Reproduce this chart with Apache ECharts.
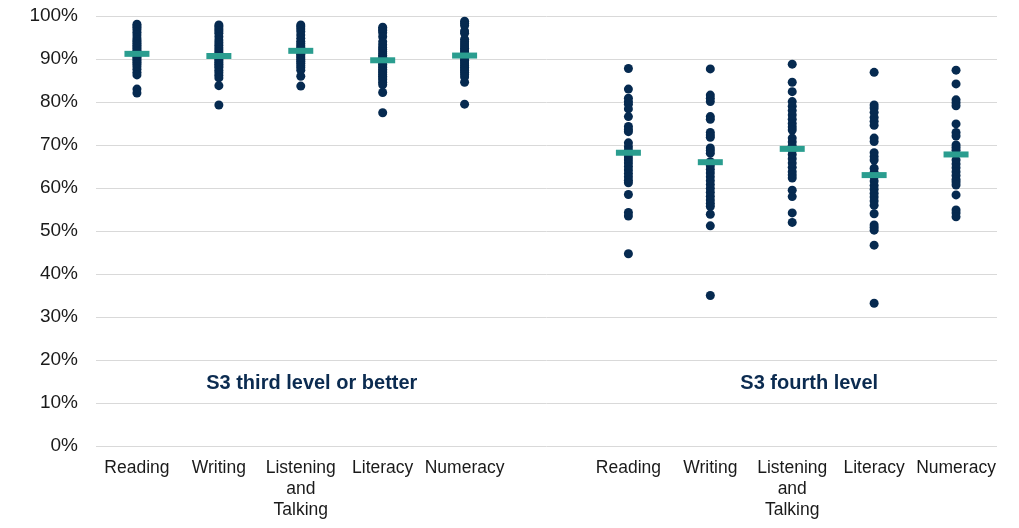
<!DOCTYPE html>
<html><head><meta charset="utf-8">
<script src="https://cdn.jsdelivr.net/npm/echarts@6/dist/echarts.min.js"></script>
<style>html,body{margin:0;padding:0;background:#fff}#c{width:1019px;height:528px}</style>
</head><body><div id="c"></div>
<script>
var categories = ['Reading','Writing','Listening\nand\nTalking','Literacy','Numeracy','','Reading','Writing','Listening\nand\nTalking','Literacy','Numeracy'];
var yTicks = [0,10,20,30,40,50,60,70,80,90,100];

// S3 third level or better (%)
var thirdReading   = [98.1,97.7,97.3,96.8,96.2,95.6,94.9,94.4,94.0,93.6,93.2,92.8,92.4,92.0,91.6,91.2,90.8,90.4,90.0,89.6,89.2,88.8,88.2,87.6,86.9,86.3,83.0,82.1];
var thirdWriting   = [97.9,97.5,97.0,96.5,96.0,95.2,94.4,93.8,93.2,92.6,92.1,91.6,91.2,90.8,90.4,90.0,89.6,89.2,88.8,88.4,88.0,87.4,86.8,86.2,85.6,83.8,79.3];
var thirdListening = [97.9,97.5,97.0,96.4,95.6,94.8,94.1,93.6,93.1,92.7,92.3,91.9,91.5,91.1,90.7,90.3,89.9,89.5,89.0,88.5,88.0,87.4,86.0,83.7];
var thirdLiteracy  = [97.4,97.0,96.6,96.1,95.2,94.0,93.3,92.7,92.2,91.7,91.2,90.8,90.4,90.0,89.6,89.2,88.8,88.4,88.0,87.6,87.2,86.8,86.4,86.0,85.6,85.2,84.6,84.0,82.2,77.5];
var thirdNumeracy  = [98.8,98.3,97.8,96.5,96.0,94.6,94.0,93.5,93.0,92.5,92.1,91.7,91.3,90.9,90.5,90.1,89.7,89.3,88.9,88.5,88.1,87.7,87.3,86.9,86.4,85.8,84.6,79.5];

// S3 fourth level (%)
var fourthReading   = [87.8,83.0,80.9,80.1,79.5,78.4,76.6,74.3,73.6,73.1,70.5,69.6,68.8,68.0,67.2,66.5,65.8,65.0,64.2,63.4,62.6,61.8,61.2,58.5,54.3,53.5,44.7];
var fourthWriting   = [87.7,81.6,80.9,80.1,76.6,76.0,72.9,72.3,71.8,69.3,68.7,68.1,66.1,65.2,64.3,63.5,62.6,61.7,60.8,59.9,59.0,58.1,57.2,56.4,55.7,53.9,51.2,35.0];
var fourthListening = [88.8,84.6,82.4,80.1,79.0,78.0,77.0,76.0,75.0,74.2,73.5,71.6,70.7,69.8,68.8,67.8,66.8,65.8,64.8,63.8,63.0,62.3,59.5,58.0,54.2,52.0];
var fourthLiteracy  = [86.9,79.3,78.6,77.6,76.4,75.5,74.6,71.6,70.8,68.2,67.3,66.5,64.6,63.6,62.6,61.6,60.6,59.7,58.8,57.9,57.0,56.0,54.0,51.4,50.8,50.2,46.7,33.2];
var fourthNumeracy  = [87.4,84.2,80.5,79.8,79.1,74.9,72.9,72.1,70.0,69.4,68.8,66.5,65.6,64.7,63.8,62.9,62.0,61.4,60.7,58.4,54.9,54.2,53.3];

// Averages (%)
var averages = [91.2,90.7,91.9,89.7,90.8,null,68.2,66.0,69.1,63.0,67.8];

var columns = [thirdReading,thirdWriting,thirdListening,thirdLiteracy,thirdNumeracy,null,
               fourthReading,fourthWriting,fourthListening,fourthLiteracy,fourthNumeracy];

var groupLabels = [
  {cat: 2, value: 15, text: 'S3 third level or better', dx: 11},
  {cat: 8, value: 15, text: 'S3 fourth level', dx: 17}
];

var dots = [];
columns.forEach(function(col, i){ if(col) col.forEach(function(v){ dots.push([i, v]); }); });
var means = [];
averages.forEach(function(v, i){ if(v!=null) means.push([i, v]); });

var chart = echarts.init(document.getElementById('c'));
chart.setOption({
  animation: false,
  grid: {left: 96, right: 22, top: 16, bottom: 82, containLabel: false},
  xAxis: {
    type: 'category', data: categories, boundaryGap: true,
    axisLine: {show: false}, axisTick: {show: false}, splitLine: {show: false},
    axisLabel: {interval: 0, color: '#1a1a1a', fontFamily: 'Liberation Sans, Arial, sans-serif', fontSize: 17.5, lineHeight: 21, margin: 12}
  },
  yAxis: {
    type: 'value', min: 0, max: 100, interval: 10,
    axisLine: {show: false}, axisTick: {show: false},
    splitLine: {lineStyle: {color: '#d9d9d9', width: 1}},
    axisLabel: {color: '#1a1a1a', fontFamily: 'Liberation Sans, Arial, sans-serif', fontSize: 19, margin: 18, padding: [4, 0, 0, 0], formatter: '{value}%'}
  },
  series: [
    {
      type: 'scatter', data: dots, symbol: 'circle', symbolSize: 9,
      itemStyle: {color: '#062A50', opacity: 1}, z: 2
    },
    {
      type: 'scatter', data: means, symbol: 'rect', symbolSize: [25, 6],
      itemStyle: {color: '#2A9D8F', opacity: 1}, z: 3
    },
    {
      type: 'scatter', symbolSize: 0, silent: true, z: 4,
      data: groupLabels.map(function(g){ return {value: [g.cat, g.value], label: {offset: [g.dx, 2], formatter: g.text}}; }),
      label: {show: true, position: 'inside', color: '#0B2B50', opacity: 1, textBorderWidth: 0, textBorderColor: 'transparent', textShadowBlur: 0,
              fontWeight: 'bold', fontSize: 20, fontFamily: 'Liberation Sans, Arial, sans-serif'}
    }
  ]
});
</script>
</body></html>
